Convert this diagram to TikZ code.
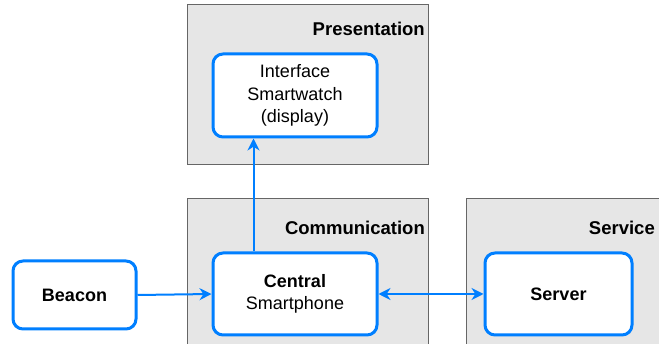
\documentclass[tikz,border=0pt]{standalone}
\usepackage{fontspec}
\setmainfont{Liberation Sans}
\usetikzlibrary{arrows.meta}
\definecolor{dblue}{HTML}{007FFF}
\definecolor{lgray}{HTML}{E6E6E6}
\definecolor{dgray}{HTML}{666666}
\tikzset{
  layer/.style={draw=dgray, fill=lgray, line width=1pt},
  comp/.style={draw=dblue, fill=white, line width=3pt, rounded corners=10pt, align=center, inner sep=0pt, font=\fontsize{18}{22.5}\selectfont},
  ltitle/.style={font=\bfseries\fontsize{18.5}{21}\selectfont, anchor=east, inner sep=0pt},
  conn/.style={draw=dblue, line width=2pt, -{Stealth[length=12pt,width=12pt]}},
  conn2/.style={draw=dblue, line width=2pt, {Stealth[length=12pt,width=12pt]}-{Stealth[length=12pt,width=12pt]}}
}
\begin{document}
\begin{tikzpicture}[x=1pt,y=-1pt]
\useasboundingbox (0,0) rectangle (659,344);
\clip (0,0) rectangle (659,344);
\path[layer] (187,5) rectangle (428,165);
\path[layer] (187,199) rectangle (428,360);
\path[layer] (466,199) rectangle (670,360);
\node[ltitle] (tpres) at (425,29) {Presentation};
\node[ltitle] (tcomm) at (425,228) {Communication};
\node[ltitle] (tserv) at (655,228) {Service};
\node[comp, minimum width=164pt, minimum height=83pt] (iface) at (295,95.5) {Interface\\Smartwatch\\(display)};
\node[comp, minimum width=164pt, minimum height=82pt] (central) at (295,294) {\textbf{Central}\\Smartphone};
\node[comp, minimum width=123pt, minimum height=68pt] (beacon) at (74.5,295) {\textbf{Beacon}};
\node[comp, minimum width=147pt, minimum height=82pt] (server) at (558.5,294) {\textbf{Server}};
\draw[conn] (beacon.east) -- (central.west);
\draw[conn2] (central.east) -- (server.west);
\draw[conn] ([xshift=42pt]central.north west) -- ([xshift=42pt]iface.south west);
\end{tikzpicture}
\end{document}
